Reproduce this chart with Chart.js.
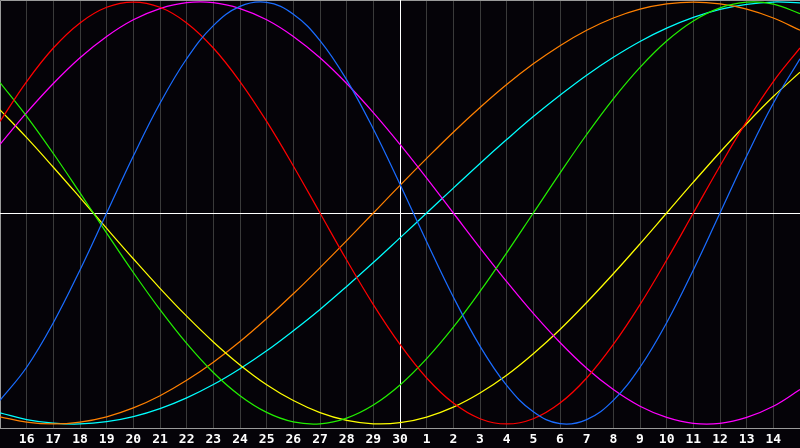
<!DOCTYPE html>
<html>
<head>
<meta charset="utf-8">
<script src="https://cdn.jsdelivr.net/npm/chart.js@4"></script>
<style>
  html, body { margin: 0; padding: 0; background: #050308; }
  #wrap { width: 800px; height: 448px; }
</style>
</head>
<body>
<div id="wrap"><canvas id="c" width="800" height="448"></canvas></div>
<script>
// Days shown (index 15 = today, day 30)
const days = ['15','16','17','18','19','20','21','22','23','24','25','26','27','28','29','30',
              '1','2','3','4','5','6','7','8','9','10','11','12','13','14','15'];
const todayIndex = 15;

// Series values (-1 .. 1)
const physical = [-0.888,-0.731,-0.520,-0.270,0.000,0.270,0.520,0.731,0.888,0.979,0.998,0.942,0.817,0.631,0.398,0.136,
                  -0.136,-0.398,-0.631,-0.817,-0.942,-0.998,-0.979,-0.888,-0.731,-0.520,-0.270,0.000,0.270,0.520,0.731];
const emotional = [0.434,0.623,0.782,0.901,0.975,1.000,0.975,0.901,0.782,0.623,0.434,0.223,0.000,-0.223,-0.434,-0.623,
                   -0.782,-0.901,-0.975,-1.000,-0.975,-0.901,-0.782,-0.623,-0.434,-0.223,0.000,0.223,0.434,0.623,0.782];
const intellectual = [0.618,0.458,0.282,0.095,-0.095,-0.282,-0.458,-0.618,-0.756,-0.866,-0.945,-0.990,-0.999,-0.972,-0.910,-0.815,
                      -0.690,-0.541,-0.372,-0.189,0.000,0.189,0.372,0.541,0.690,0.815,0.910,0.972,0.999,0.990,0.945];
const intuitive = [0.325,0.476,0.614,0.736,0.837,0.916,0.969,0.997,0.997,0.969,0.916,0.837,0.736,0.614,0.476,0.325,
                   0.165,0.000,-0.165,-0.325,-0.476,-0.614,-0.736,-0.837,-0.916,-0.969,-0.997,-0.997,-0.969,-0.916,-0.837];
const aesthetic = [0.489,0.357,0.217,0.073,-0.073,-0.217,-0.357,-0.489,-0.611,-0.720,-0.814,-0.889,-0.946,-0.983,-0.999,-0.994,
                   -0.967,-0.920,-0.853,-0.769,-0.667,-0.552,-0.424,-0.288,-0.146,0.000,0.146,0.288,0.424,0.552,0.667];
const awareness = [-0.966,-0.991,-1.000,-0.991,-0.966,-0.924,-0.866,-0.793,-0.707,-0.609,-0.500,-0.383,-0.259,-0.131,0.000,0.131,
                   0.259,0.383,0.500,0.609,0.707,0.793,0.866,0.924,0.966,0.991,1.000,0.991,0.966,0.924,0.866];
const spiritual = [-0.947,-0.979,-0.996,-1.000,-0.989,-0.965,-0.927,-0.876,-0.813,-0.738,-0.653,-0.558,-0.457,-0.348,-0.235,-0.118,
                   0.000,0.118,0.235,0.348,0.457,0.558,0.653,0.738,0.813,0.876,0.927,0.965,0.989,1.000,0.996];

const seriesNames = ['Physical','Emotional','Intellectual','Intuitive','Aesthetic','Awareness','Spiritual'];
const seriesData = [physical, emotional, intellectual, intuitive, aesthetic, awareness, spiritual];
const seriesColors = ['#1a6cff','#ff0000','#22ee00','#ff00ff','#ffff00','#ff8000','#00ffff'];

const frame = {
  id: 'frame',
  beforeDraw(chart) {
    const c = chart.ctx;
    c.save();
    c.fillStyle = '#050308';
    c.fillRect(0, 0, chart.width, chart.height);
    c.restore();
  },
  beforeDatasetsDraw(chart) {
    const c = chart.ctx, a = chart.chartArea;
    const xs = chart.scales.x, ys = chart.scales.y;
    c.save();
    c.lineWidth = 1;
    c.strokeStyle = '#9a9a9a';
    c.beginPath();
    c.moveTo(0.5, a.bottom + 0.5);
    c.lineTo(0.5, 0.5);
    c.lineTo(a.right, 0.5);
    c.moveTo(0, a.bottom + 0.5);
    c.lineTo(a.right, a.bottom + 0.5);
    c.stroke();
    c.strokeStyle = '#ffffff';
    const y0 = Math.round(ys.getPixelForValue(0)) + 0.5;
    const xt = Math.round(xs.getPixelForValue(todayIndex)) + 0.5;
    c.beginPath();
    c.moveTo(a.left, y0); c.lineTo(a.right, y0);
    c.moveTo(xt, a.top); c.lineTo(xt, a.bottom);
    c.stroke();
    c.restore();
  }
};

new Chart(document.getElementById('c'), {
  type: 'line',
  data: {
    labels: days,
    datasets: seriesData.map((d, i) => ({
      label: seriesNames[i],
      data: d,
      borderColor: seriesColors[i],
      borderWidth: 1.25,
      pointRadius: 0,
      fill: false,
      tension: 0.4
    }))
  },
  options: {
    responsive: false,
    animation: false,
    events: [],
    layout: { padding: 0 },
    plugins: { legend: { display: false }, tooltip: { enabled: false } },
    scales: {
      x: {
        type: 'category',
        offset: false,
        border: { display: false },
        afterFit: function (scale) {
          scale.paddingLeft = 0;
          scale.paddingRight = 0;
          scale.height = 20;
        },
        grid: {
          color: (ctx) => (ctx.index === 0 || ctx.index === todayIndex) ? 'rgba(0,0,0,0)' : '#3a3a3a',
          lineWidth: 1,
          drawTicks: false,
          tickLength: 0
        },
        ticks: {
          autoSkip: false,
          maxRotation: 0,
          minRotation: 0,
          padding: 5,
          color: '#ffffff',
          font: { family: 'DejaVu Sans Mono', size: 13, weight: 'bold', lineHeight: 1.0 },
          callback: function (v, i) {
            return (i === 0 || i === days.length - 1) ? '' : days[i];
          }
        }
      },
      y: {
        display: false,
        min: -1.019,
        max: 1.0095
      }
    }
  },
  plugins: [frame]
});
</script>
</body>
</html>
